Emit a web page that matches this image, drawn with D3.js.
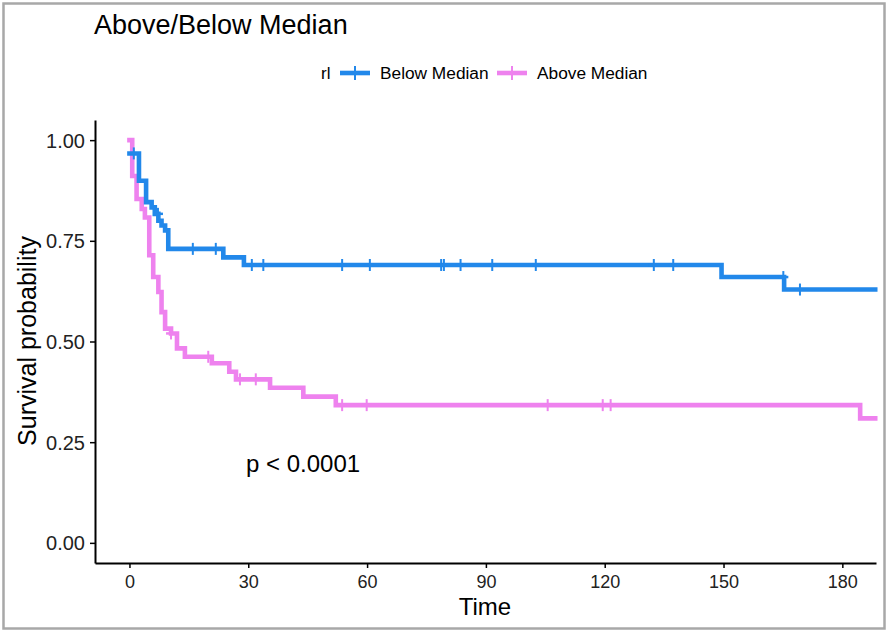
<!DOCTYPE html>
<html><head><meta charset="utf-8">
<script src="https://cdn.jsdelivr.net/npm/d3@7"></script>
<style>body{margin:0;background:#fff}svg{display:block;font-family:"Liberation Sans",Arial,sans-serif}</style>
</head><body>
<svg id="c" width="891" height="632"></svg>
<script>
// ---- data ----
const groups = ["Below Median", "Above Median"];
const colors = ["#2288ea", "#ee82ee"];
const belowTimes = [0, 2.4, 4.2, 5.6, 6.4, 7.3, 8.1, 9.0, 9.8, 23.7, 28.9, 149.5, 165.3, 188.3];
const belowSurv  = [0.967, 0.899, 0.846, 0.833, 0.817, 0.800, 0.788, 0.776, 0.730, 0.709, 0.690, 0.660, 0.629, 0.629];
const belowCensor = [1.1, 7.2, 16.0, 21.8, 30.9, 33.8, 53.7, 60.7, 78.7, 79.4, 83.6, 91.6, 102.6, 132.4, 137.3, 165.1, 169.3];
const aboveTimes = [0, 0.7, 1.8, 3.1, 3.9, 5.0, 6.0, 7.3, 8.1, 9.0, 10.5, 12.0, 14.0, 20.8, 25.2, 26.9, 35.5, 43.9, 52.1, 184.5, 188.3];
const aboveSurv  = [1.0, 0.911, 0.854, 0.829, 0.808, 0.714, 0.660, 0.623, 0.573, 0.532, 0.520, 0.483, 0.462, 0.446, 0.425, 0.406, 0.385, 0.363, 0.342, 0.309, 0.309];
const aboveCensor = [10.5, 19.9, 27.9, 31.9, 53.7, 59.9, 105.6, 119.5, 121.5];
const xTicks = [0, 30, 60, 90, 120, 150, 180];
const yTicks = [0, 0.25, 0.5, 0.75, 1.0];
const pLabel = "p < 0.0001";

const series = [
  {name: groups[0], color: colors[0], t: belowTimes, s: belowSurv, c: belowCensor},
  {name: groups[1], color: colors[1], t: aboveTimes, s: aboveSurv, c: aboveCensor}
];

const svg = d3.select("#c");
svg.append("rect").attr("x",3.5).attr("y",3.5).attr("width",881).attr("height",625)
  .attr("fill","#fff").attr("stroke","#a8a8a8").attr("stroke-width",2.5);

const x = d3.scaleLinear().domain([-8.7, 188.5]).range([95, 876]);
const y = d3.scaleLinear().domain([-0.05, 1.05]).range([563, 120]);

// curves
const line = d3.line().curve(d3.curveStepAfter).x(d => x(d[0])).y(d => y(d[1]));
function survAt(se, t){ let v = se.s[0]; for (let i=0;i<se.t.length;i++){ if (se.t[i] <= t) v = se.s[i]; } return v; }
series.slice().reverse().forEach(se => {
  const pts = se.t.map((t,i)=>[t, se.s[i]]);
  svg.append("path").attr("d", line(pts)).attr("fill","none").attr("stroke", se.color)
     .attr("stroke-width", 4.6).attr("stroke-linejoin","miter").attr("stroke-linecap","square");
  const g = svg.append("g");
  se.c.forEach(t => {
    const cx = x(t), cy = y(survAt(se, t));
    g.append("line").attr("x1",cx).attr("x2",cx).attr("y1",cy-6).attr("y2",cy+6).attr("stroke",se.color).attr("stroke-width",2);
    g.append("line").attr("x1",cx-5).attr("x2",cx+5).attr("y1",cy).attr("y2",cy).attr("stroke",se.color).attr("stroke-width",2.5);
  });
});

// axes
const ax = svg.append("g").attr("transform","translate(0,563)")
  .call(d3.axisBottom(x).tickValues(xTicks).tickSize(5).tickSizeOuter(0).tickPadding(7));
const ay = svg.append("g").attr("transform","translate(95,0)")
  .call(d3.axisLeft(y).tickValues(yTicks).tickFormat(d3.format(".2f")).tickSize(5).tickSizeOuter(0).tickPadding(5));
[ax, ay].forEach(a => {
  a.select(".domain").attr("stroke","#000").attr("stroke-width",2);
  a.selectAll(".tick line").attr("stroke","#000").attr("stroke-width",1.5);
  a.selectAll(".tick text").attr("fill","#222");
});
ax.selectAll(".tick text").style("font-size","18px");
ay.selectAll(".tick text").style("font-size","20px").attr("dy","0.35em");

// titles
svg.append("text").attr("x",94).attr("y",34).text("Above/Below Median")
  .style("font-size","27px").attr("fill","#000");
svg.append("text").attr("x",485).attr("y",615).attr("text-anchor","middle").text("Time")
  .style("font-size","24px").attr("fill","#000");
svg.append("text").attr("transform","translate(36,341) rotate(-90)").attr("text-anchor","middle")
  .text("Survival probability").style("font-size","25px").attr("fill","#000");
svg.append("text").attr("x",246).attr("y",472).text(pLabel).style("font-size","24px").attr("fill","#000");

// legend
const lg = svg.append("g");
lg.append("text").attr("x",321).attr("y",79).text("rl").style("font-size","17px").attr("fill","#000");
const legX = [340, 497];
series.forEach((se,i) => {
  const lx = legX[i];
  lg.append("line").attr("x1",lx).attr("x2",lx+30).attr("y1",73).attr("y2",73).attr("stroke",se.color).attr("stroke-width",4.6);
  lg.append("line").attr("x1",lx+15).attr("x2",lx+15).attr("y1",66).attr("y2",80).attr("stroke",se.color).attr("stroke-width",2);
  lg.append("text").attr("x",lx+40).attr("y",79).text(se.name).style("font-size","17.3px").attr("fill","#000");
});
</script>
</body></html>
